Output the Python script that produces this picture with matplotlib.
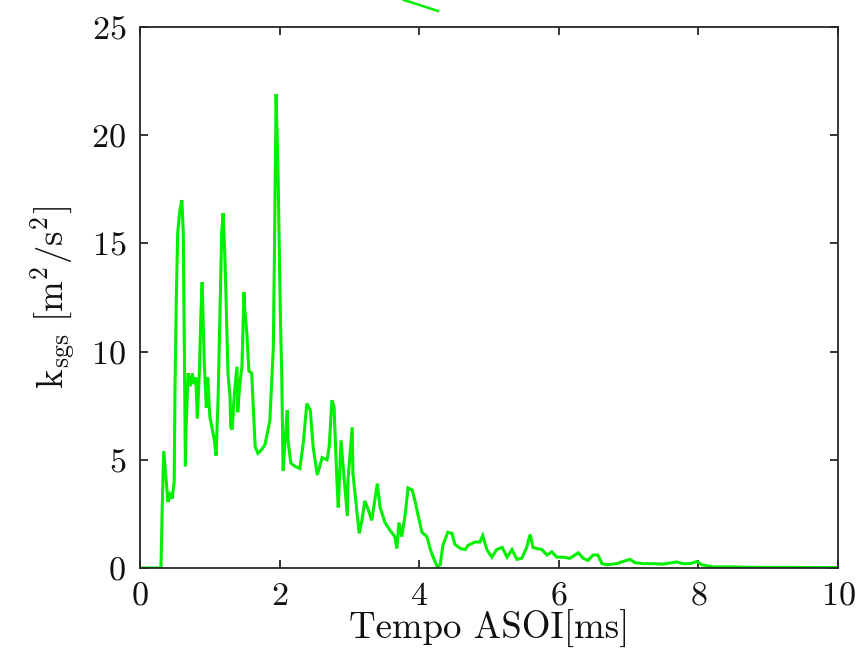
import matplotlib
matplotlib.use("Agg")
import matplotlib.pyplot as plt

plt.rcParams["font.family"] = "cmr10"
plt.rcParams["mathtext.fontset"] = "cm"
plt.rcParams["axes.formatter.use_mathtext"] = True

# Subgrid-scale turbulent kinetic energy versus time after start of injection
time_ms = [0.00, 0.30, 0.32, 0.34, 0.37, 0.40, 0.43, 0.46, 0.49, 0.50, 0.52, 0.54,
           0.57, 0.60, 0.62, 0.65, 0.66, 0.69, 0.72, 0.75, 0.77, 0.80, 0.82, 0.85,
           0.87, 0.89, 0.92, 0.95, 0.97, 1.00, 1.03, 1.06, 1.09, 1.12, 1.15, 1.17,
           1.19, 1.22, 1.26, 1.29, 1.30, 1.32, 1.35, 1.39, 1.40, 1.43, 1.46, 1.49,
           1.50, 1.53, 1.56, 1.60, 1.65, 1.69, 1.75, 1.79, 1.86, 1.91, 1.93, 1.95,
           1.98, 2.01, 2.03, 2.05, 2.08, 2.11, 2.12, 2.16, 2.22, 2.29, 2.34, 2.39,
           2.44, 2.48, 2.54, 2.61, 2.68, 2.71, 2.75, 2.78, 2.82, 2.84, 2.88, 2.91,
           2.97, 2.98, 3.04, 3.05, 3.11, 3.14, 3.18, 3.22, 3.27, 3.32, 3.40, 3.44,
           3.51, 3.58, 3.65, 3.68, 3.71, 3.75, 3.80, 3.84, 3.90, 3.94, 3.98, 4.04,
           4.11, 4.16, 4.20, 4.26, 4.30, 4.34, 4.41, 4.47, 4.51, 4.59, 4.66, 4.70,
           4.80, 4.87, 4.91, 4.97, 5.04, 5.11, 5.19, 5.26, 5.33, 5.40, 5.47, 5.54,
           5.59, 5.63, 5.69, 5.76, 5.83, 5.90, 5.97, 6.06, 6.16, 6.28, 6.35, 6.42,
           6.49, 6.56, 6.62, 6.69, 6.83, 6.92, 7.02, 7.09, 7.21, 7.35, 7.49, 7.69,
           7.78, 7.88, 7.98, 8.05, 8.21, 8.50, 8.74, 9.99]
k_sgs = [0.00, 0.00, 3.10, 5.40, 4.20, 3.05, 3.40, 3.20, 4.00, 8.00, 12.5, 15.5,
         16.5, 17.0, 15.5, 4.70, 6.50, 9.00, 8.40, 9.00, 8.50, 8.80, 6.90, 9.00,
         11.5, 13.2, 9.50, 7.40, 8.80, 7.00, 6.50, 6.00, 5.20, 8.00, 12.5, 15.5,
         16.4, 14.0, 9.00, 7.90, 6.50, 6.40, 8.00, 9.30, 7.20, 8.50, 9.30, 12.75,
         12.0, 10.9, 9.10, 9.00, 5.60, 5.30, 5.50, 5.70, 6.80, 10.2, 15.8, 21.9,
         17.9, 11.8, 9.00, 4.50, 6.00, 7.30, 5.90, 4.85, 4.70, 4.60, 5.80, 7.60,
         7.30, 5.60, 4.30, 5.10, 5.00, 5.60, 7.75, 7.45, 4.10, 2.80, 5.90, 4.70,
         2.40, 4.10, 6.50, 4.40, 2.50, 1.60, 2.20, 3.10, 2.70, 2.20, 3.90, 2.80,
         2.10, 1.75, 1.45, 0.90, 2.10, 1.45, 2.50, 3.70, 3.60, 3.10, 2.50, 1.65,
         1.45, 0.85, 0.50, 0.05, 0.15, 1.05, 1.65, 1.60, 1.10, 0.90, 0.85, 1.05,
         1.20, 1.20, 1.50, 0.85, 0.50, 0.85, 0.95, 0.50, 0.85, 0.40, 0.45, 0.95,
         1.55, 0.95, 0.90, 0.85, 0.60, 0.75, 0.50, 0.50, 0.45, 0.70, 0.45, 0.35,
         0.60, 0.60, 0.20, 0.15, 0.20, 0.30, 0.40, 0.25, 0.20, 0.20, 0.18, 0.28,
         0.20, 0.20, 0.30, 0.15, 0.05, 0.05, 0.03, 0.02]

# short stray stroke that runs above the plot frame
stray_time = [3.78, 4.27]
stray_k = [26.25, 25.74]

x_ticks = [0, 2, 4, 6, 8, 10]
y_ticks = [0, 5, 10, 15, 20, 25]

line_color = "#00f000"
frame_color = "#262626"

fig = plt.figure(figsize=(8.67, 6.54), dpi=100)
ax = fig.add_axes([0.1615, 0.1315, 0.805, 0.8272])

ax.plot(time_ms, k_sgs, color=line_color, lw=2.2, solid_joinstyle="miter")
ax.plot(stray_time, stray_k, color=line_color, lw=1.8, clip_on=False)

ax.set_xlim(0, 10)
ax.set_ylim(0, 25)
ax.set_xticks(x_ticks)
ax.set_yticks(y_ticks)

for s in ax.spines.values():
    s.set_color(frame_color)
    s.set_linewidth(1.3)

ax.tick_params(direction="in", length=6, width=1.3, color=frame_color,
               labelsize=24.5, top=True, right=True, pad=10, labelcolor="#111111")

ax.set_xlabel("Tempo ASOI[ms]", fontsize=26.5, color="#111111", labelpad=-1)
ax.set_ylabel(r"$\mathrm{k_{sgs}}\ \mathrm{[m^2/s^2]}$", fontsize=26.5,
              color="#111111", labelpad=10)

fig.savefig("out.png", dpi=100)
